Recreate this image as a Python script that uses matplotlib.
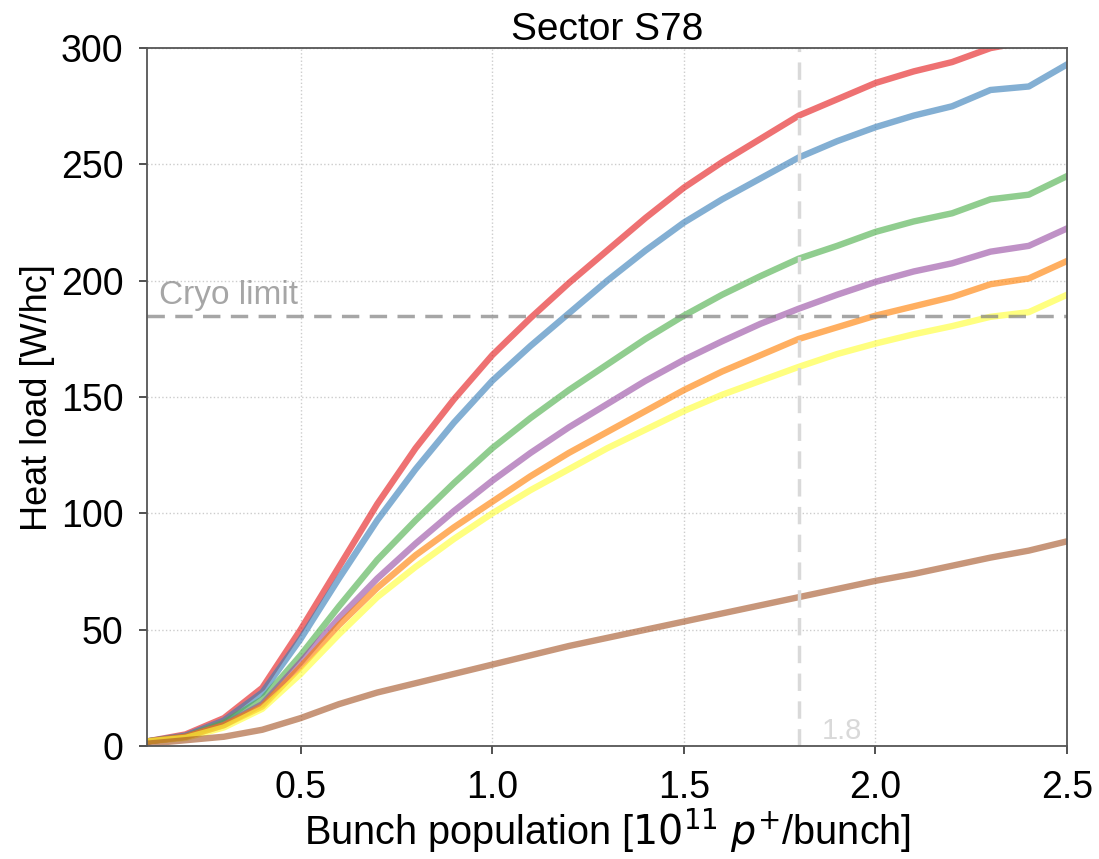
import numpy as np
import matplotlib
matplotlib.use('Agg')
import matplotlib.pyplot as plt

plt.rcParams['font.family'] = ['Liberation Sans', 'DejaVu Sans']

# bunch population [1e11 p+/bunch]
ppb = [0.1, 0.2, 0.3, 0.4, 0.5, 0.6, 0.7, 0.8, 0.9, 1.0, 1.1, 1.2, 1.3,
       1.4, 1.5, 1.6, 1.7, 1.8, 1.9, 2.0, 2.1, 2.2, 2.3, 2.4, 2.5]

hl_red = [2, 5, 12, 25, 50, 77, 104, 128, 149, 168, 184, 199, 213,
          227, 240, 251, 261, 271, 278, 285, 290, 294, 300, 303, 308]
hl_blue = [2, 4.5, 11, 23, 46, 72, 97, 119, 139, 157, 172, 186, 200,
           213, 225, 235, 244, 253, 260, 266, 271, 275, 282, 283.5, 293]
hl_green = [2, 4, 10, 20, 39, 60, 80, 97, 113, 128, 141, 153, 164,
            175, 185, 194, 202, 209.5, 215, 221, 225.5, 229, 235, 237, 245]
hl_purple = [2, 4, 9, 18, 36, 55, 72, 87, 101, 114, 126, 137, 147,
             157, 166, 174, 181.5, 188, 194, 199.5, 204, 207.5, 212.5, 215, 222.5]
hl_orange = [2, 4, 9, 17, 34, 52, 68, 82, 94, 105, 116, 126, 135,
             144, 153, 161, 168, 175, 180, 185, 189, 193, 198.5, 201, 208.5]
hl_yellow = [2, 3.5, 8, 16, 31, 48, 64, 77, 89, 100, 110, 119, 128,
             136, 144, 151, 157, 163, 168.5, 173, 177, 180.5, 184.5, 186.5, 194]
hl_brown = [1, 2.5, 4, 7, 12, 18, 23, 27, 31, 35, 39, 43, 46.5,
            50, 53.5, 57, 60.5, 64, 67.5, 71, 74, 77.5, 81, 84, 88]

cryo_limit = 185
ppb_nominal = 1.8

series = [hl_red, hl_blue, hl_green, hl_purple, hl_orange, hl_yellow, hl_brown]
colors = plt.cm.Set1(np.arange(len(series)))

fig = plt.figure(figsize=(10.99, 8.59), dpi=100)
ax = fig.add_axes([0.134, 0.1315, 0.837, 0.8125])

for hl, c in zip(series, colors):
    ax.plot(ppb, hl, color=c, lw=4.6, alpha=0.62)

ax.axhline(cryo_limit, color='grey', ls='--', lw=2.5, alpha=0.7, dashes=(5, 3))
ax.text(0.13, cryo_limit + 5, 'Cryo limit', color='grey', alpha=0.7, fontsize=24)
ax.axvline(ppb_nominal, color='#d9d9d9', ls='--', lw=2.5, dashes=(5, 3))
ax.text(1.86, 3, '1.8', color='#d9d9d9', fontsize=21)

ax.set_xlim(0.1, 2.5)
ax.set_ylim(0, 300)
ax.set_xticks([0.5, 1.0, 1.5, 2.0, 2.5])
ax.set_yticks([0, 50, 100, 150, 200, 250, 300])
ax.grid(True, ls=':', color='#cccccc', lw=1)
ax.tick_params(labelsize=27, length=6, width=1.2, color='#333333', pad=11)
for sp in ax.spines.values():
    sp.set_color('#555555')
    sp.set_linewidth(1.3)

ax.set_xlabel(r'Bunch population [$10^{11}$ $p^{+}$/bunch]', fontsize=28.5, labelpad=1)
ax.set_ylabel('Heat load [W/hc]', fontsize=26, labelpad=4)
ax.set_title('Sector S78', fontsize=28, pad=6)

plt.savefig('out.png', dpi=100)
